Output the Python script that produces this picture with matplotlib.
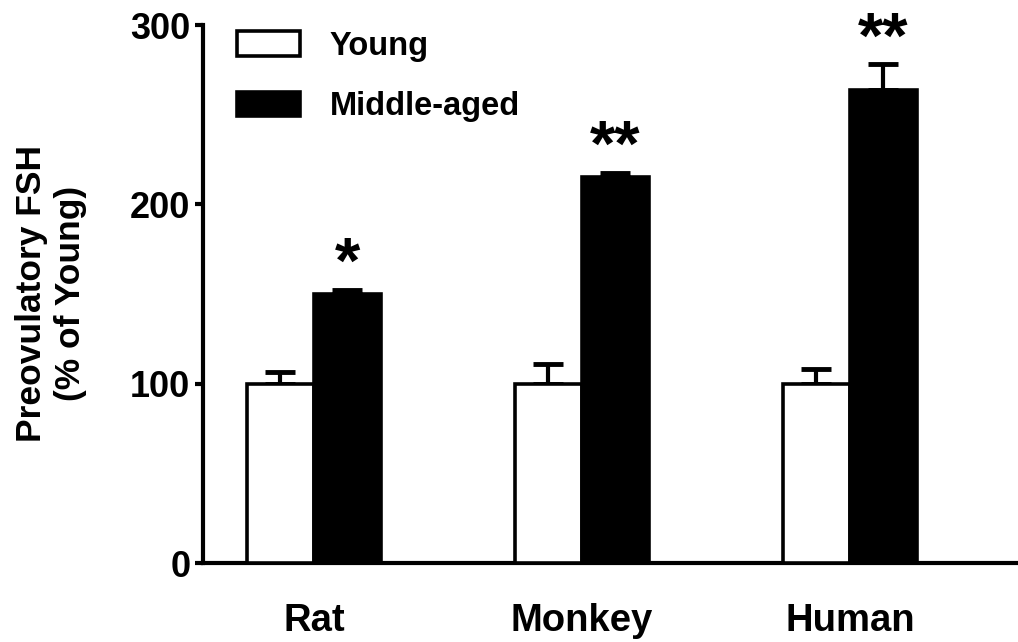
import matplotlib
matplotlib.use("Agg")
import matplotlib.pyplot as plt
import numpy as np
from matplotlib.patches import Patch

plt.rcParams['font.family'] = ['Liberation Sans', 'DejaVu Sans']
plt.rcParams['font.weight'] = 'bold'

categories = ["Rat", "Monkey", "Human"]
young = [100, 100, 100]
young_err = [6.5, 11, 8]
middle = [150, 215, 264]
middle_err = [2, 2.5, 14]
stars = ["*", "**", "**"]
series_names = ["Young", "Middle-aged"]
yticks = [0, 100, 200, 300]

fig = plt.figure(figsize=(10.18, 6.42), dpi=100)
ax = fig.add_axes([0.1994, 0.123, 0.8006, 0.838])

x = np.arange(len(categories))
w = 0.25
lw = 2.6
ax.bar(x - w/2, young, w, color='white', edgecolor='black', linewidth=lw, zorder=3)
ax.bar(x + w/2, middle, w, color='black', edgecolor='black', linewidth=lw, zorder=3)
ax.errorbar(x - w/2, young, yerr=[np.zeros(3), young_err], fmt='none', ecolor='black',
            elinewidth=3, capsize=11, capthick=3.5, zorder=2)
ax.errorbar(x + w/2, middle, yerr=[np.zeros(3), middle_err], fmt='none', ecolor='black',
            elinewidth=3, capsize=11, capthick=3.5, zorder=2)
for xi, m, e, s in zip(x, middle, middle_err, stars):
    ax.text(xi + w/2, m + e + 4, s, ha='center', va='baseline', fontsize=47, fontweight='bold')

ax.set_xlim(-0.414, 2.627)
ax.set_ylim(0, 300)
ax.set_yticks(yticks)
ax.set_xticks(x)
ax.set_xticklabels(categories)
ax.tick_params(axis='x', length=0, pad=29, labelsize=27.5)
ax.tick_params(axis='y', length=6, width=3, labelsize=26, pad=3)
for lab in ax.get_xticklabels() + ax.get_yticklabels():
    lab.set_fontweight('bold')
for side in ['top', 'right']:
    ax.spines[side].set_visible(False)
for side in ['left', 'bottom']:
    ax.spines[side].set_linewidth(3)

fig.text(51/1018, 1 - 293/642, "Preovulatory FSH\n(% of Young)", rotation=90,
         ha='center', va='center', multialignment='center', fontsize=25.5, fontweight='bold')

handles = [Patch(facecolor='white', edgecolor='black', linewidth=lw),
           Patch(facecolor='black', edgecolor='black', linewidth=lw)]
ax.legend(handles, series_names, loc='upper left', bbox_to_anchor=(0.0417, 0.989),
          frameon=False, handlelength=1.93, handleheight=0.8,
          labelspacing=0.9, handletextpad=0.92, borderpad=0, borderaxespad=0,
          prop={'weight': 'bold', 'size': 23.5})

fig.savefig("out.png", dpi=100)
